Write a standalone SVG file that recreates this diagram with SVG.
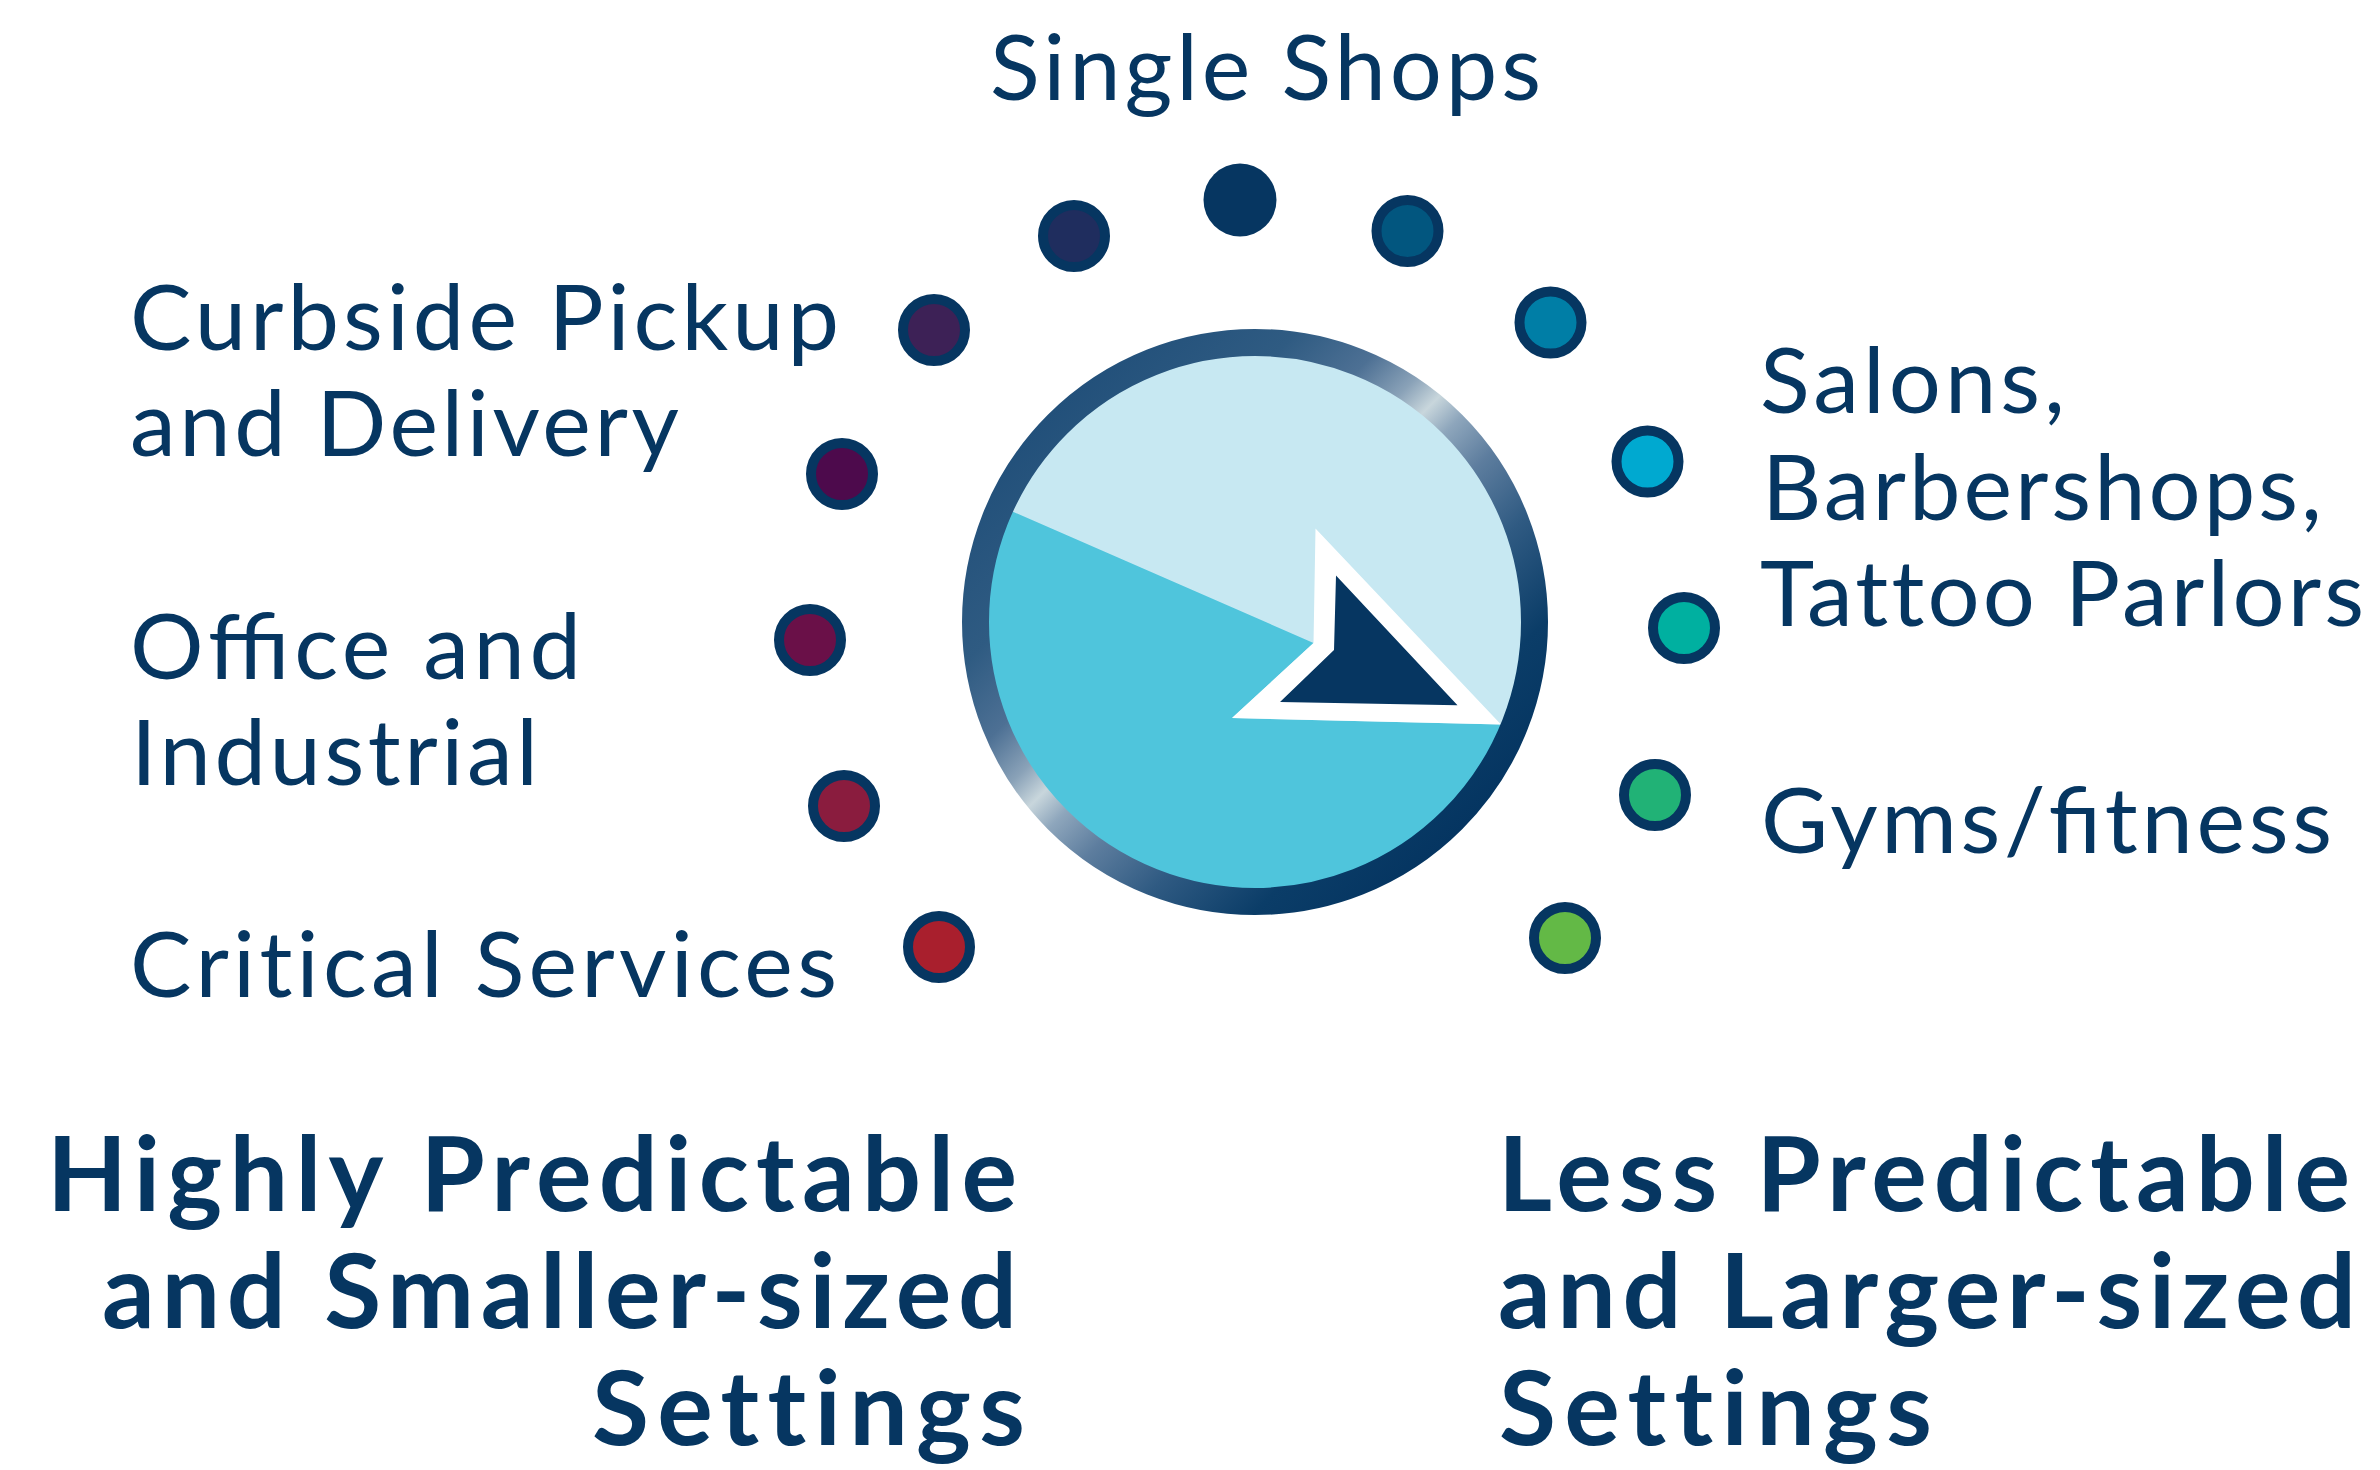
<svg xmlns="http://www.w3.org/2000/svg" width="2380" height="1470" viewBox="0 0 2380 1470">
<style>
.t{font-family:Lato,"Liberation Sans",sans-serif;font-size:92px;fill:#063661}
.b{font-family:Lato,"Liberation Sans",sans-serif;font-size:104px;font-weight:700;fill:#063661}
.nl{font-variant-ligatures:none;font-feature-settings:"liga" 0,"clig" 0,"dlig" 0}
.dot{stroke:#063661;stroke-width:10}
</style>
<defs>
<linearGradient id="ring" gradientUnits="userSpaceOnUse" x1="1048" y1="415" x2="1462" y2="829">
<stop offset="0" stop-color="#22507a"/>
<stop offset="0.2" stop-color="#2f5b82"/>
<stop offset="0.32" stop-color="#4d7094"/>
<stop offset="0.4" stop-color="#8aa2b8"/>
<stop offset="0.45" stop-color="#c8d6dc"/>
<stop offset="0.5" stop-color="#8ea6bc"/>
<stop offset="0.58" stop-color="#5d7d9e"/>
<stop offset="0.7" stop-color="#2f5a82"/>
<stop offset="0.85" stop-color="#0b3d68"/>
<stop offset="1" stop-color="#053561"/>
</linearGradient>
<clipPath id="inner"><circle cx="1255" cy="622" r="268"/></clipPath>
</defs>
<g id="connectors"/>
<g id="dial">
<circle cx="1255" cy="622" r="268" fill="#c7e8f2"/>
<g clip-path="url(#inner)">
<polygon points="960,488.6 1313.5,643 1232,718 1540,725.5 1540,900 960,900" fill="#4fc5dc"/>
<polygon points="1315.5,528.6 1501,724.5 1232,718 1313.5,643" fill="#ffffff"/>
<polygon points="1336,575.5 1457.5,705.3 1280,702 1334,650" fill="#063661"/>
</g>
<circle cx="1255" cy="622" r="279.5" fill="none" stroke="url(#ring)" stroke-width="27"/>
</g>
<g id="dots">
<circle id="dot-1" class="dot" cx="1074" cy="236" r="31" fill="#1f2d5e"/>
<circle id="dot-2" cx="1240" cy="200" r="36.5" fill="#063661"/>
<circle id="dot-3" class="dot" cx="1407.5" cy="231" r="31" fill="#02567f"/>
<circle id="dot-4" class="dot" cx="1550.5" cy="322.5" r="31" fill="#007ea6"/>
<circle id="dot-5" class="dot" cx="1647.5" cy="461.5" r="31" fill="#00a9d0"/>
<circle id="dot-6" class="dot" cx="1684" cy="628" r="31" fill="#00b0a0"/>
<circle id="dot-7" class="dot" cx="1655" cy="795" r="31" fill="#21b276"/>
<circle id="dot-8" class="dot" cx="1565" cy="938" r="31" fill="#63b946"/>
<circle id="dot-9" class="dot" cx="934" cy="330" r="31" fill="#3d2156"/>
<circle id="dot-10" class="dot" cx="842" cy="474" r="31" fill="#4d0a4c"/>
<circle id="dot-11" class="dot" cx="810" cy="640" r="31" fill="#6a1048"/>
<circle id="dot-12" class="dot" cx="844" cy="806" r="31" fill="#8a1c3e"/>
<circle id="dot-13" class="dot" cx="939" cy="947" r="31" fill="#a91f2d"/>
</g>
<g id="label-single-shops"><text class="t" x="990" y="100" textLength="551">Single Shops</text></g>
<g id="label-curbside">
<text class="t" x="130" y="350" textLength="709">Curbside Pickup</text>
<text class="t" x="130" y="456" textLength="549">and Delivery</text>
</g>
<g id="label-office">
<text class="t" x="130" y="679" textLength="451">Office and</text>
<text class="t" x="131" y="785" textLength="407">Industrial</text>
</g>
<g id="label-critical"><text class="t nl" x="130" y="997" textLength="707">Critical Services</text></g>
<g id="label-salons">
<text class="t" x="1760" y="413" textLength="305">Salons,</text>
<text class="t" x="1762" y="520" textLength="560">Barbershops,</text>
<text class="t nl" x="1760" y="626" textLength="604">Tattoo Parlors</text>
</g>
<g id="label-gyms"><text class="t" x="1761" y="853" textLength="571">Gyms/fitness</text></g>
<g id="label-highly">
<text class="b" x="47" y="1211" textLength="970">Highly Predictable</text>
<text class="b" x="102" y="1328" textLength="915">and Smaller-sized</text>
<text class="b nl" x="592" y="1445" textLength="433">Settings</text>
</g>
<g id="label-less">
<text class="b" x="1498" y="1211" textLength="852">Less Predictable</text>
<text class="b" x="1498" y="1328" textLength="858">and Larger-sized</text>
<text class="b nl" x="1499" y="1445" textLength="433">Settings</text>
</g>
</svg>
